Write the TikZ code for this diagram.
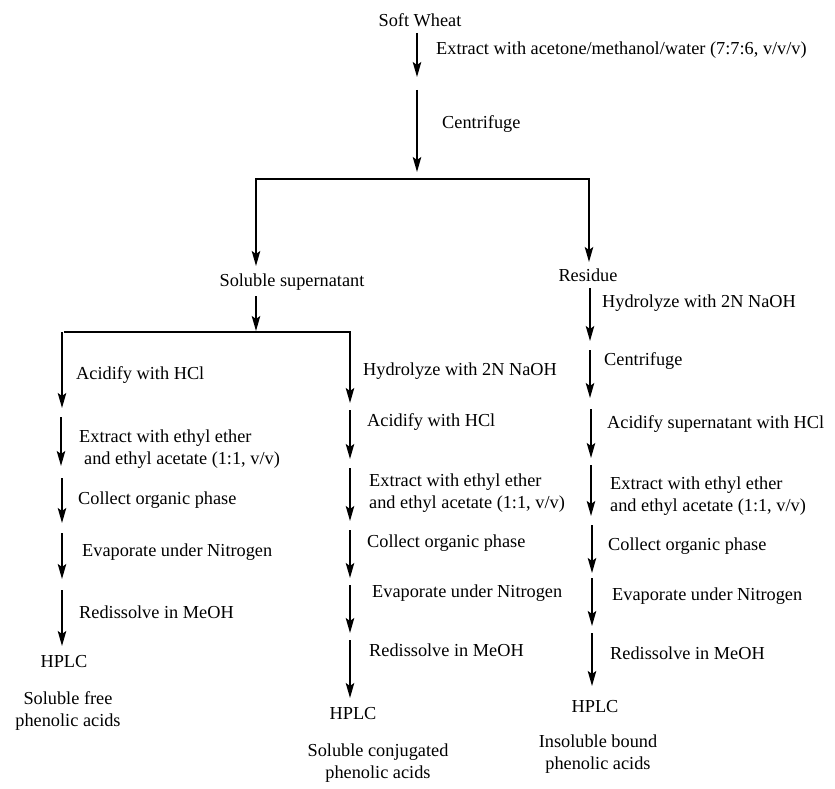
\documentclass[tikz,border=0pt]{standalone}
\usepackage{fontspec}
\setmainfont{Liberation Serif}
\usetikzlibrary{arrows.meta}
\begin{document}
\begin{tikzpicture}[x=1pt,y=-1pt,
  txt/.style={inner sep=0pt,font=\fontsize{18.3}{21.5}\selectfont},
  lbl/.style={txt,anchor=west,align=left},
  flow/.style={line width=1.6pt,-{Stealth[length=15pt,width=8.5pt,inset=3pt]}},
  bar/.style={line width=1.6pt}]
\useasboundingbox (0,0) rectangle (835,789);
% top
\node[txt] (sw) at (420,20) {Soft Wheat};
\coordinate (a1s) at (417,33); \coordinate (a1e) at (417,77);
\draw[flow] (a1s) -- (a1e);
\node[lbl] (ext) at (436,50) {Extract with acetone/methanol/water (7:7:6, v/v/v)};
\coordinate (a2s) at (417,90); \coordinate (a2e) at (417,172);
\draw[flow] (a2s) -- (a2e);
\node[lbl] (cen) at (442,124) {Centrifuge};
\coordinate (hl) at (255,179); \coordinate (hr) at (590,179);
\draw[bar] (hl) -- (hr);
\draw[flow] (256,179) -- (256,266);
\draw[flow] (589,179) -- (589,262);
\node[txt] (sup) at (292,282) {Soluble supernatant};
\node[txt] (res) at (588,275) {Residue};
% split of supernatant
\draw[flow] (256,296) -- (256,331);
\coordinate (h2l) at (64,332); \coordinate (h2r) at (351,332);
\draw[bar] (h2l) -- (h2r);
% left column
\draw[flow] (62,332) -- (62,408);
\node[lbl] at (76,375) {Acidify with HCl};
\draw[flow] (61,417) -- (61,466);
\node[lbl] at (79,449) {Extract with ethyl ether\\\hspace{5pt}and ethyl acetate (1:1, v/v)};
\draw[flow] (62,478) -- (62,523);
\node[lbl] at (78,500) {Collect organic phase};
\draw[flow] (62,533) -- (62,579);
\node[lbl] at (82,552) {Evaporate under Nitrogen};
\draw[flow] (62,590) -- (62,646);
\node[lbl] at (79,612) {Redissolve in MeOH};
\node[txt] (hp1) at (64,662) {HPLC};
\node[txt,align=center] (r1) at (68,711) {Soluble free\\phenolic acids};
% middle column
\draw[flow] (350,332) -- (350,403);
\node[lbl] at (363,371) {Hydrolyze with 2N NaOH};
\draw[flow] (350,410) -- (350,459);
\node[lbl] at (367,422) {Acidify with HCl};
\draw[flow] (350,468) -- (350,521);
\node[lbl] at (369,493) {Extract with ethyl ether\\and ethyl acetate (1:1, v/v)};
\draw[flow] (350,530) -- (350,578);
\node[lbl] at (367,543) {Collect organic phase};
\draw[flow] (350,585) -- (350,633);
\node[lbl] at (372,593) {Evaporate under Nitrogen};
\draw[flow] (350,640) -- (350,698);
\node[lbl] at (369,650) {Redissolve in MeOH};
\node[txt] (hp2) at (353,714) {HPLC};
\node[txt,align=center] (r2) at (378,763) {Soluble conjugated\\phenolic acids};
% right column
\draw[flow] (590,288) -- (590,341);
\node[lbl] at (602,303) {Hydrolyze with 2N NaOH};
\draw[flow] (590,350) -- (590,398);
\node[lbl] at (604,361) {Centrifuge};
\draw[flow] (591,409) -- (591,458);
\node[lbl] at (607,424) {Acidify supernatant with HCl};
\draw[flow] (591,465) -- (591,516);
\node[lbl] at (610,496) {Extract with ethyl ether\\and ethyl acetate (1:1, v/v)};
\draw[flow] (592,525) -- (592,573);
\node[lbl] at (608,546) {Collect organic phase};
\draw[flow] (592,578) -- (592,626);
\node[lbl] at (612,596) {Evaporate under Nitrogen};
\draw[flow] (592,633) -- (592,686);
\node[lbl] at (610,653) {Redissolve in MeOH};
\node[txt] (hp3) at (595,707) {HPLC};
\node[txt,align=center] (r3) at (598,754) {Insoluble bound\\phenolic acids};
\end{tikzpicture}
\end{document}
